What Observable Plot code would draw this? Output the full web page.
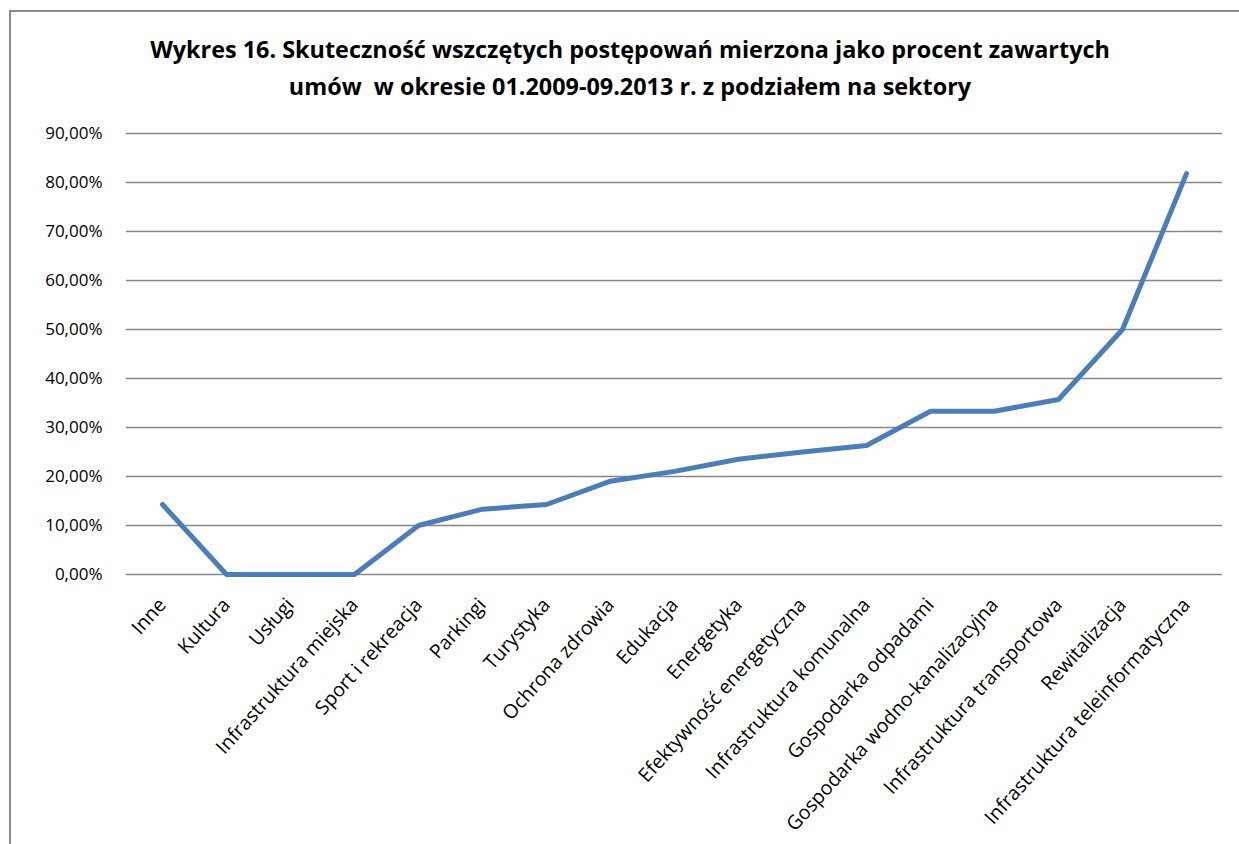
<!DOCTYPE html>
<html>
<head>
<meta charset="utf-8">
<script src="https://cdn.jsdelivr.net/npm/d3@7"></script>
<script src="https://cdn.jsdelivr.net/npm/@observablehq/plot@0.6"></script>
<style>
  html, body { margin: 0; padding: 0; background: #fff; width: 1239px; height: 844px; overflow: hidden; }
  #frame { position: absolute; left: 9px; top: 10px; width: 1300px; height: 900px; border: 2px solid #8a8a8a; box-sizing: border-box; }
  #title { position: absolute; left: 0; top: 31px; width: 1260px; text-align: center; font-family: "Open Sans", sans-serif; font-weight: bold; font-size: 23.4px; line-height: 37px; color: #000; }
  #chart { position: absolute; left: 0; top: 115px; }
</style>
</head>
<body>
<div id="frame"></div>
<div id="title">Wykres 16. Skuteczność wszczętych postępowań mierzona jako procent zawartych<br>umów&nbsp; w okresie 01.2009-09.2013 r. z podziałem na sektory</div>
<div id="chart"></div>
<script>
const categories = [
  "Inne", "Kultura", "Usługi", "Infrastruktura miejska", "Sport i rekreacja",
  "Parkingi", "Turystyka", "Ochrona zdrowia", "Edukacja", "Energetyka",
  "Efektywność energetyczna", "Infrastruktura komunalna", "Gospodarka odpadami",
  "Gospodarka wodno-kanalizacyjna", "Infrastruktura transportowa", "Rewitalizacja",
  "Infrastruktura teleinformatyczna"
];
const values = [14.29, 0, 0, 0, 10.0, 13.33, 14.29, 19.05, 21.05, 23.53, 25.0, 26.32, 33.33, 33.33, 35.71, 50.0, 81.82];
const yTicks = [0, 10, 20, 30, 40, 50, 60, 70, 80, 90];

const data = categories.map((c, i) => ({category: c, value: values[i]}));
const fmt = d => d.toFixed(2).replace(".", ",") + "%";

const chart = Plot.plot({
  width: 1239,
  height: 729,
  marginLeft: 126,
  marginRight: 17,
  marginTop: 18,
  marginBottom: 270,
  style: {fontFamily: "'Open Sans', sans-serif", fontSize: "17px", color: "#000", background: "transparent"},
  x: {type: "band", domain: categories, padding: 0, label: null},
  y: {domain: [0, 90], ticks: yTicks, label: null},
  marks: [
    Plot.gridY(yTicks, {stroke: "#868686", strokeOpacity: 1, strokeWidth: 1.4}),
    Plot.axisY(yTicks, {tickSize: 0, tickPadding: 24, tickFormat: fmt, fontSize: 17, fill: "#000", label: null}),
    Plot.axisX({tickSize: 0, tickRotate: -48, tickPadding: 27, fontSize: 19.5, fill: "#000", label: null}),
    Plot.line(data, {x: "category", y: "value", stroke: "#4A7EBB", strokeWidth: 5, strokeLinejoin: "round", strokeLinecap: "round"})
  ]
});
document.getElementById("chart").appendChild(chart);
</script>
</body>
</html>
